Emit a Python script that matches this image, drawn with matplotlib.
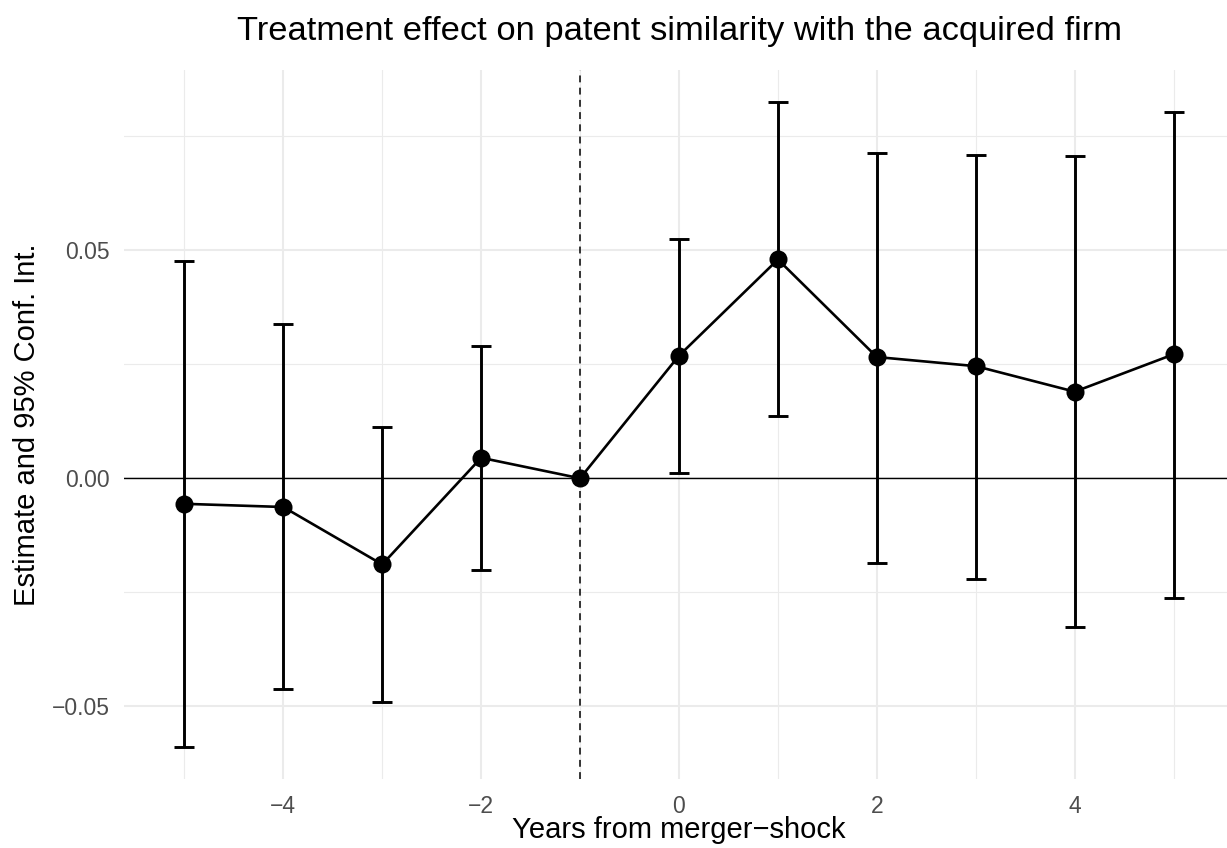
import numpy as np
import matplotlib
matplotlib.use("Agg")
import matplotlib.pyplot as plt
from matplotlib.ticker import FixedLocator

plt.rcParams['font.family'] = ['Liberation Sans', 'DejaVu Sans']

# Event-study estimates and 95% confidence bounds
years = [-5, -4, -3, -2, -1, 0, 1, 2, 3, 4, 5]
estimate = [-0.0056, -0.0063, -0.0189, 0.0045, 0.0, 0.0269, 0.0480, 0.0266, 0.0246, 0.0190, 0.0272]
ci_low = [-0.0589, -0.0463, -0.0491, -0.0201, np.nan, 0.0012, 0.0136, -0.0185, -0.0220, -0.0326, -0.0262]
ci_high = [0.0477, 0.0339, 0.0112, 0.0290, np.nan, 0.0526, 0.0825, 0.0714, 0.0709, 0.0708, 0.0803]

x_major = [-4, -2, 0, 2, 4]
x_minor = [-5, -3, -1, 1, 3, 5]
y_major = [-0.05, 0.0, 0.05]
y_minor = [-0.025, 0.025, 0.075]
y_ticklabels = ["\u22120.05", "0.00", "0.05"]
x_ticklabels = ["\u22124", "\u22122", "0", "2", "4"]

W, H = 1227, 848
fig = plt.figure(figsize=(W / 100, H / 100), dpi=100)
left, right, top, bottom = 124, 1234, 70, 779
ax = fig.add_axes([left / W, (H - bottom) / H, (right - left) / W, (bottom - top) / H])

yrs = np.array(years, dtype=float)
est = np.array(estimate)
lo = np.array(ci_low)
hi = np.array(ci_high)

# limits: error-bar width 0.2, plus 5% padding on each side
cap_half = 0.1
xr = (yrs.min() - cap_half, yrs.max() + cap_half)
xpad = 0.05 * (xr[1] - xr[0])
ax.set_xlim(xr[0] - xpad, xr[1] + xpad)
ymin, ymax = np.nanmin(lo), np.nanmax(hi)
ypad = 0.05 * (ymax - ymin)
ax.set_ylim(ymin - ypad, ymax + ypad)

grid_c = "#EBEBEB"
for v in x_minor:
    ax.axvline(v, color=grid_c, lw=0.8, zorder=0)
for v in x_major:
    ax.axvline(v, color=grid_c, lw=1.5, zorder=0)
for v in y_minor:
    ax.axhline(v, color=grid_c, lw=0.8, zorder=0)
for v in y_major:
    ax.axhline(v, color=grid_c, lw=1.5, zorder=0)

ax.axhline(0, color="black", lw=1.0, zorder=1)
ax.axvline(-1, color="black", lw=1.1, linestyle=(0, (4.5, 3.5)), zorder=1)

has_ci = ~np.isnan(lo)
ax.vlines(yrs[has_ci], lo[has_ci], hi[has_ci], color="black", lw=2.1, zorder=2)
ax.hlines(lo[has_ci], yrs[has_ci] - cap_half, yrs[has_ci] + cap_half, color="black", lw=2.1, zorder=2)
ax.hlines(hi[has_ci], yrs[has_ci] - cap_half, yrs[has_ci] + cap_half, color="black", lw=2.1, zorder=2)

ax.plot(yrs, est, color="black", lw=1.9, zorder=3)
ax.plot(yrs, est, "o", color="black", markersize=13, markeredgewidth=0, zorder=4)

for s in ax.spines.values():
    s.set_visible(False)
ax.xaxis.set_major_locator(FixedLocator(x_major))
ax.yaxis.set_major_locator(FixedLocator(y_major))
ax.set_xticklabels(x_ticklabels)
ax.set_yticklabels(y_ticklabels)
ax.tick_params(axis="both", length=0, labelsize=16.5, labelcolor="#4D4D4D")
ax.tick_params(axis="x", pad=11.5)
ax.tick_params(axis="y", pad=10)

ax.set_xlabel("Years from merger\u2212shock", fontsize=21, color="black")
ax.xaxis.label.set_va("baseline")
ax.xaxis.set_label_coords(0.5, (H - 838 - (H - bottom)) / (bottom - top))

ax.set_ylabel("Estimate and 95% Conf. Int.", fontsize=21, color="black",
              rotation=90, rotation_mode="anchor", ha="center", va="baseline")
ax.yaxis.set_label_coords((35 - left) / (right - left), 0.5)

fig.text((left + right) / 2 / W, (H - 40) / H,
         "Treatment effect on patent similarity with the acquired firm",
         fontsize=24.8, ha="center", va="baseline", color="black")

fig.savefig("out.png", dpi=100, facecolor="white")
